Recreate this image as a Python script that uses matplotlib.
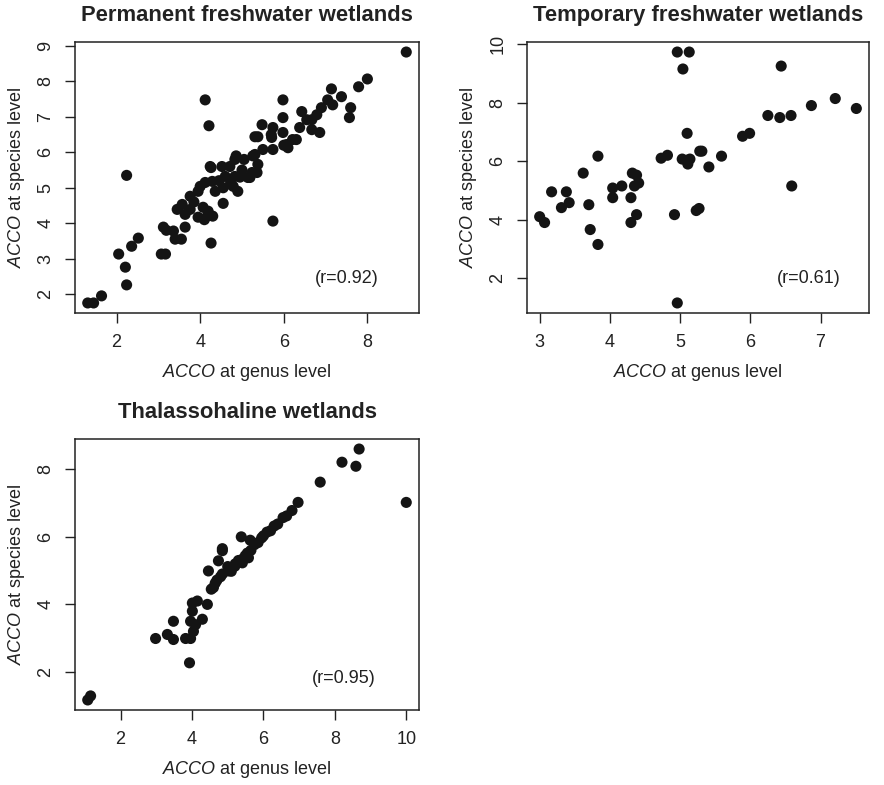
import matplotlib
matplotlib.use("Agg")
import matplotlib.pyplot as plt
import numpy as np

plt.rcParams['font.family'] = ['Liberation Sans', 'DejaVu Sans']
plt.rcParams['mathtext.fontset'] = 'custom'
plt.rcParams['mathtext.rm'] = 'Liberation Sans'
plt.rcParams['mathtext.it'] = 'Liberation Sans:italic'

# Panel 1: Permanent freshwater wetlands
perm_genus = [4.12, 4.21, 5.31, 4.86, 5.26, 4.24, 4.52, 4.71,
              8.93, 8.0, 7.79, 7.14, 7.38, 7.05, 7.17, 7.6, 7.57, 6.9, 6.79, 6.67, 6.43, 5.98, 5.98,
              6.38, 6.55, 6.67, 6.86, 6.3, 5.48, 5.74, 5.38, 5.71, 5.98, 6.21, 6.07, 5.31, 5.5, 5.74,
              6.1, 5.38,
              2.24, 1.31, 1.45, 1.64, 2.24, 2.21, 2.05, 2.36, 2.52, 3.07, 3.17, 3.12, 3.19, 3.36, 3.4,
              3.55, 3.64, 4.26, 3.45, 3.57, 3.64, 3.76, 3.76, 3.95, 3.95, 4.07, 4.19, 4.17, 4.55, 4.0,
              4.12, 4.29, 4.36, 4.26, 4.79, 4.6, 4.83, 5.14, 5.24, 4.83,
              5.74, 5.19, 5.36, 4.45, 4.55, 4.72, 5.0, 4.95, 4.9, 4.1, 4.3, 3.85, 5.05, 5.7, 6.0]
perm_species = [7.48, 6.75, 6.44, 5.9, 5.9, 5.6, 5.6, 5.6,
                8.83, 8.07, 7.85, 7.79, 7.57, 7.48, 7.34, 7.26, 6.98, 7.26, 7.06, 6.92, 7.15, 7.48, 6.98,
                6.7, 6.92, 6.64, 6.56, 6.36, 6.78, 6.7, 6.44, 6.42, 6.56, 6.36, 6.22, 5.94, 6.08, 6.08,
                6.13, 5.66,
                5.35, 1.75, 1.75, 1.95, 2.26, 2.76, 3.13, 3.35, 3.58, 3.13, 3.13, 3.89, 3.8, 3.78, 3.55,
                3.55, 3.89, 3.44, 4.39, 4.53, 4.25, 4.39, 4.76, 4.9, 4.17, 4.45, 4.34, 4.2, 4.56, 5.04,
                5.15, 5.18, 4.9, 5.57, 5.04, 5.32, 5.32, 5.29, 5.43, 5.8,
                4.06, 5.29, 5.43, 5.2, 5.0, 5.1, 5.5, 5.3, 4.9, 4.1, 4.2, 4.6, 5.8, 6.5, 6.2]

# Panel 2: Temporary freshwater wetlands
temp_genus = [4.96, 5.13, 5.04, 5.1, 5.28, 3.83, 4.73, 4.82, 5.03, 5.1, 5.11, 3.62, 4.32,
              6.44, 7.21, 7.51, 6.87, 6.25, 6.42, 6.58, 5.89, 5.99, 5.31, 5.59, 5.41, 5.14,
              3.17, 3.38, 3.31, 3.42, 3.0, 3.07, 3.7, 3.72, 3.83, 4.04, 4.04, 4.17, 4.35, 4.41,
              4.3, 4.38, 4.3, 4.96, 4.92, 5.23, 5.27, 6.59, 4.38]
temp_species = [9.73, 9.73, 9.15, 6.95, 6.34, 6.17, 6.1, 6.2, 6.07, 6.03, 5.9, 5.59, 5.59,
                9.25, 8.14, 7.8, 7.9, 7.56, 7.49, 7.56, 6.85, 6.95, 6.34, 6.17, 5.8, 6.07,
                4.95, 4.95, 4.41, 4.58, 4.1, 3.9, 4.51, 3.66, 3.15, 5.08, 4.75, 5.15, 5.15, 5.25,
                4.75, 4.17, 3.9, 1.15, 4.17, 4.31, 4.38, 5.15, 5.52]

# Panel 3: Thalassohaline wetlands
thal_genus = [8.68, 8.2, 8.59, 7.59, 10.0, 6.97,
              6.8, 6.65, 6.55, 6.4, 6.3, 6.2, 6.1, 6.0, 5.95, 5.85, 5.75, 5.65, 5.55, 5.49, 5.4,
              5.3, 5.2, 5.1,
              5.38, 4.85, 5.63,
              1.16, 1.08, 3.93, 2.98, 3.31, 3.48, 3.48, 3.82, 3.96, 4.04, 3.96, 4.29, 4.01, 4.01,
              4.15, 4.43, 4.54, 4.65, 4.46, 4.74, 4.85, 5.02, 5.21, 5.41, 5.58, 4.85,
              4.6, 4.7, 4.8, 5.0, 5.1, 4.1]
thal_species = [8.6, 8.21, 8.09, 7.62, 7.02, 7.02,
                6.78, 6.62, 6.57, 6.38, 6.32, 6.18, 6.14, 6.03, 5.97, 5.83, 5.77, 5.6, 5.52, 5.44, 5.33,
                5.3, 5.13, 5.06,
                6.0, 5.65, 5.9,
                1.29, 1.17, 2.27, 2.99, 3.11, 2.96, 3.5, 2.99, 2.99, 3.2, 3.5, 3.56, 3.8, 4.04,
                4.1, 4.0, 4.45, 4.63, 4.99, 5.29, 4.9, 4.99, 5.2, 5.23, 5.38, 5.59,
                4.5, 4.72, 4.82, 5.12, 4.98, 3.4]

titles = ["Permanent freshwater wetlands", "Temporary freshwater wetlands", "Thalassohaline wetlands"]
r_labels = ["(r=0.92)", "(r=0.61)", "(r=0.95)"]
r_pos = [(7.5, 2.45), (6.83, 2.0), (8.26, 1.8)]
xticks = [[2, 4, 6, 8], [3, 4, 5, 6, 7], [2, 4, 6, 8, 10]]
yticks = [[2, 3, 4, 5, 6, 7, 8, 9], [2, 4, 6, 8, 10], [2, 4, 6, 8]]

fig = plt.figure(figsize=(8.84, 7.85), dpi=100)
W, H = 884, 785
boxes = [(75, 419, 42, 313), (527, 869, 42, 313), (75, 419, 439, 710)]
datasets = [(perm_genus, perm_species), (temp_genus, temp_species), (thal_genus, thal_species)]

fs = 13
for i, ((x0, x1, y0, y1), (gx, sy)) in enumerate(zip(boxes, datasets)):
    ax = fig.add_axes([x0 / W, 1 - y1 / H, (x1 - x0) / W, (y1 - y0) / H])
    gx = np.array(gx); sy = np.array(sy)
    ax.scatter(gx, sy, s=64, color='#141414', edgecolors='none', zorder=3)
    rx = gx.max() - gx.min(); ry = sy.max() - sy.min()
    ax.set_xlim(gx.min() - 0.04 * rx, gx.max() + 0.04 * rx)
    ax.set_ylim(sy.min() - 0.04 * ry, sy.max() + 0.04 * ry)
    ax.set_xticks(xticks[i])
    ax.set_yticks(yticks[i])
    ax.tick_params(axis='both', direction='out', length=7, width=1, labelsize=fs,
                   colors='#222222', pad=8)
    for lab in ax.get_yticklabels():
        lab.set_rotation(90)
        lab.set_va('center')
    for sp in ax.spines.values():
        sp.set_linewidth(1.1)
        sp.set_color('#222222')
    ax.set_xlabel(r'$\mathit{ACCO}$ at genus level', fontsize=fs, color='#222222', labelpad=8)
    ax.set_ylabel(r'$\mathit{ACCO}$ at species level', fontsize=fs, color='#222222', labelpad=7)
    ax.set_title(titles[i], fontsize=15.8, fontweight='bold', color='#222222', pad=15)
    ax.text(r_pos[i][0], r_pos[i][1], r_labels[i], fontsize=fs, color='#222222',
            ha='center', va='center')

fig.savefig("out.png", dpi=100)
